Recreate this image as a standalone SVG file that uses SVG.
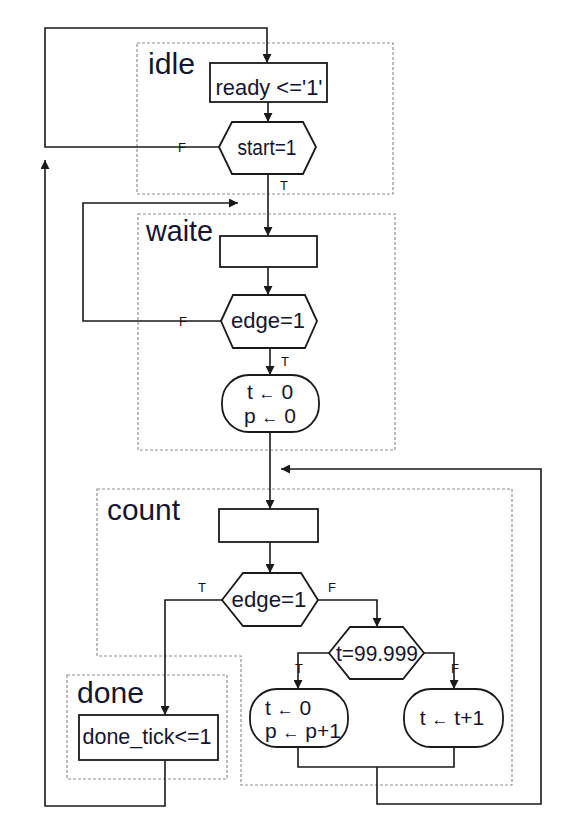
<svg xmlns="http://www.w3.org/2000/svg" width="584" height="830" viewBox="0 0 584 830">
<style>
.bg{fill:#ffffff}
.region{fill:none;stroke:#909090;stroke-width:1.2;stroke-dasharray:3 2}
.box{fill:#ffffff;stroke:#1a1a1a;stroke-width:1.8}
.conn{fill:none;stroke:#1a1a1a;stroke-width:1.6}
.t{font-family:"Liberation Sans",Arial,sans-serif;fill:#15152e}
.title{font-size:29px}
.lbl{font-size:22px;text-anchor:middle}
.ops{font-size:21px}
.tf{font-size:13px;text-anchor:middle;fill:#111111}
.ar{font-size:17px}
</style>
<defs>
<marker id="arrow" viewBox="0 0 10 10" refX="10" refY="5" markerWidth="9" markerHeight="9" markerUnits="userSpaceOnUse" orient="auto">
<path d="M0,0 L10,5 L0,10 z" fill="#1a1a1a"/>
</marker>
</defs>
<rect class="bg" x="0" y="0" width="584" height="830"/>

<g id="regions">
<rect class="region" x="137" y="43" width="256" height="151"/>
<rect class="region" x="138" y="214" width="257" height="236"/>
<polygon class="region" points="97,489 512,489 512,785 241,785 241,656 97,656"/>
<rect class="region" x="67" y="675" width="160" height="104"/>
</g>

<g id="region-labels">
<text class="t title" x="148" y="74" textLength="47" lengthAdjust="spacingAndGlyphs">idle</text>
<text class="t title" x="146" y="241" textLength="67" lengthAdjust="spacingAndGlyphs">waite</text>
<text class="t title" x="107" y="520" textLength="73" lengthAdjust="spacingAndGlyphs">count</text>
<text class="t title" x="77" y="703" textLength="67" lengthAdjust="spacingAndGlyphs">done</text>
</g>

<g id="connectors">
<path class="conn" d="M268,102 V122" marker-end="url(#arrow)"/>
<path class="conn" d="M219,147 H45 V28 H267 V63" marker-end="url(#arrow)"/>
<path class="conn" d="M268,174 V236" marker-end="url(#arrow)"/>
<path class="conn" d="M268,267 V295" marker-end="url(#arrow)"/>
<path class="conn" d="M221,321 H83 V203 H238" marker-end="url(#arrow)"/>
<path class="conn" d="M270,348 V375" marker-end="url(#arrow)"/>
<path class="conn" d="M270,432 V509" marker-end="url(#arrow)"/>
<path class="conn" d="M270,542 V573" marker-end="url(#arrow)"/>
<path class="conn" d="M222,600 H165 V715" marker-end="url(#arrow)"/>
<path class="conn" d="M318,600 H377 V627" marker-end="url(#arrow)"/>
<path class="conn" d="M329,653 H298 V689" marker-end="url(#arrow)"/>
<path class="conn" d="M424,653 H454 V689" marker-end="url(#arrow)"/>
<path class="conn" d="M298,747 V767 H454 V747"/>
<path class="conn" d="M377,767 V804 H541 V469 H281" marker-end="url(#arrow)"/>
<path class="conn" d="M165,760 V806 H45 V160" marker-end="url(#arrow)"/>
<text class="t tf" x="182" y="152">F</text>
<text class="t tf" x="284" y="190">T</text>
<text class="t tf" x="183" y="326">F</text>
<text class="t tf" x="285" y="366">T</text>
<text class="t tf" x="202" y="592">T</text>
<text class="t tf" x="332" y="592">F</text>
<text class="t tf" x="299" y="673">T</text>
<text class="t tf" x="455" y="673">F</text>
</g>

<g id="idle-action">
<rect class="box" x="210" y="63" width="117" height="39"/>
<text class="t lbl" x="269" y="95" textLength="107" lengthAdjust="spacingAndGlyphs">ready &lt;='1'</text>
</g>
<g id="idle-decision">
<polygon class="box" points="219,147 232,122 303,122 316,147 303,174 232,174"/>
<text class="t lbl" x="267" y="155" textLength="59" lengthAdjust="spacingAndGlyphs">start=1</text>
</g>

<g id="waite-action">
<rect class="box" x="220" y="236" width="97" height="31"/>
</g>
<g id="waite-decision">
<polygon class="box" points="221,321 233,295 305,295 317,321 305,348 233,348"/>
<text class="t lbl" x="268" y="328" textLength="74" lengthAdjust="spacingAndGlyphs">edge=1</text>
</g>
<g id="waite-init">
<rect class="box" x="222" y="375" width="97" height="57" rx="27" ry="27"/>
<text class="t ops" x="270" y="399" text-anchor="middle">t <tspan class="ar">←</tspan> 0</text>
<text class="t ops" x="270" y="423" text-anchor="middle">p <tspan class="ar">←</tspan> 0</text>
</g>

<g id="count-action">
<rect class="box" x="219" y="509" width="99" height="33"/>
</g>
<g id="count-decision">
<polygon class="box" points="222,600 243,573 301,573 318,600 301,626 243,626"/>
<text class="t lbl" x="269" y="607" textLength="75" lengthAdjust="spacingAndGlyphs">edge=1</text>
</g>
<g id="t-decision">
<polygon class="box" points="329,653 350,627 403,627 424,653 403,679 350,679"/>
<text class="t lbl" x="377" y="661" textLength="82" lengthAdjust="spacingAndGlyphs">t=99.999</text>
</g>
<g id="count-reset">
<rect class="box" x="250" y="689" width="98" height="58" rx="27" ry="27"/>
<text class="t ops" x="265" y="715">t <tspan class="ar">←</tspan> 0</text>
<text class="t ops" x="265" y="738">p <tspan class="ar">←</tspan> p+1</text>
</g>
<g id="count-inc">
<rect class="box" x="404" y="689" width="99" height="58" rx="27" ry="27"/>
<text class="t ops" x="452" y="725" text-anchor="middle">t <tspan class="ar">←</tspan> t+1</text>
</g>

<g id="done-action">
<rect class="box" x="79" y="715" width="139" height="45"/>
<text class="t lbl" x="147" y="744" textLength="129" lengthAdjust="spacingAndGlyphs">done_tick&lt;=1</text>
</g>
</svg>
